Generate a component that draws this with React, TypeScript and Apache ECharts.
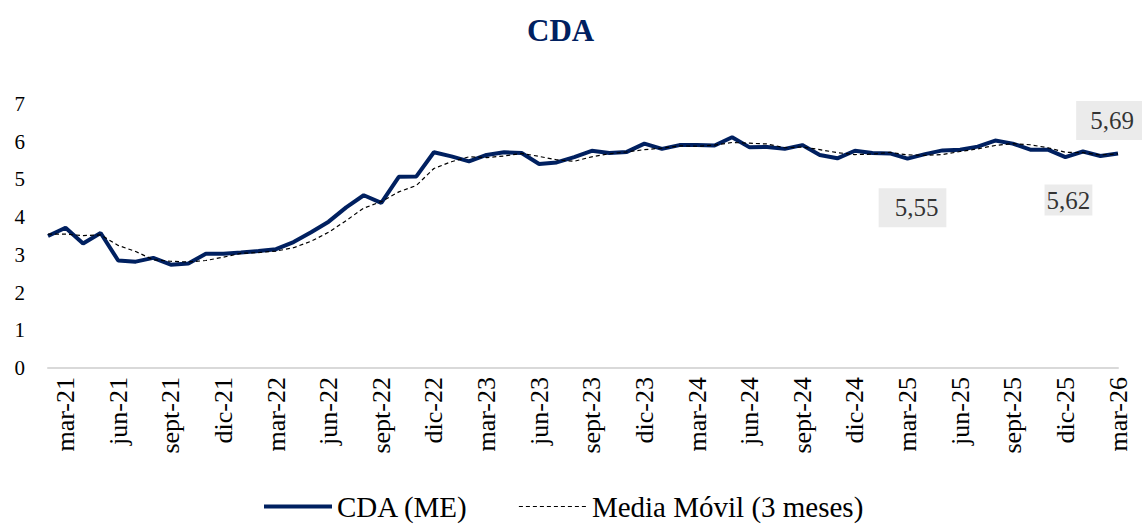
import { useEffect, useRef } from "react";
import * as echarts from "echarts";

const categories = [
  "feb-21", "mar-21", "abr-21", "may-21", "jun-21", "jul-21", "ago-21", "sept-21", "oct-21", "nov-21", "dic-21",
  "ene-22", "feb-22", "mar-22", "abr-22", "may-22", "jun-22", "jul-22", "ago-22", "sept-22", "oct-22", "nov-22", "dic-22",
  "ene-23", "feb-23", "mar-23", "abr-23", "may-23", "jun-23", "jul-23", "ago-23", "sept-23", "oct-23", "nov-23", "dic-23",
  "ene-24", "feb-24", "mar-24", "abr-24", "may-24", "jun-24", "jul-24", "ago-24", "sept-24", "oct-24", "nov-24", "dic-24",
  "ene-25", "feb-25", "mar-25", "abr-25", "may-25", "jun-25", "jul-25", "ago-25", "sept-25", "oct-25", "nov-25", "dic-25",
  "ene-26", "feb-26", "mar-26",
];

const cdaValues = [
  3.5, 3.72, 3.3, 3.58, 2.85, 2.82, 2.92, 2.74, 2.77, 3.03, 3.03,
  3.06, 3.1, 3.15, 3.34, 3.6, 3.88, 4.26, 4.58, 4.38, 5.07, 5.08, 5.72,
  5.61, 5.48, 5.65, 5.72, 5.7, 5.41, 5.45, 5.59, 5.76, 5.7, 5.73, 5.95,
  5.81, 5.91, 5.91, 5.9, 6.12, 5.85, 5.86, 5.81, 5.91, 5.65, 5.56, 5.76,
  5.7, 5.69, 5.55, 5.67, 5.77, 5.79, 5.87, 6.03, 5.95, 5.79, 5.79, 5.59,
  5.74, 5.62, 5.69,
];

const movingAvg = [
  3.55, 3.55, 3.51, 3.53, 3.25, 3.09, 2.87, 2.83, 2.81, 2.85, 2.94,
  3.04, 3.06, 3.1, 3.19, 3.36, 3.6, 3.91, 4.24, 4.41, 4.67, 4.84, 5.29,
  5.47, 5.6, 5.58, 5.62, 5.69, 5.61, 5.52, 5.48, 5.6, 5.68, 5.73, 5.79,
  5.83, 5.89, 5.88, 5.91, 5.98, 5.96, 5.94, 5.84, 5.86, 5.79, 5.71, 5.66,
  5.67, 5.72, 5.65, 5.64, 5.66, 5.74, 5.81, 5.9, 5.95, 5.92, 5.84, 5.72,
  5.71, 5.65, 5.68,
];

const annotatedIndices = [49, 60, 61];
const annotationOffsets = [
  { offset: [5, 49], padding: [7, 8, 7, 16] },
  { offset: [-32, 44], padding: [3, 2, 3, 2] },
  { offset: [-8, -33], padding: [7, 10, 7, 14] },
];

const seriesNames = ["CDA (ME)", "Media Móvil (3 meses)"];

const FONT = "'Liberation Serif', 'Times New Roman', serif";
const NAVY = "#002060";

const fmt = (v: number) => v.toFixed(2).replace(".", ",");

export default function App() {
  const ref = useRef<HTMLDivElement>(null);

  useEffect(() => {
    if (!ref.current) return;
    const chart = echarts.init(ref.current, undefined, { renderer: "svg" });
    chart.setOption({
      animation: false,
      backgroundColor: "#ffffff",
      title: {
        text: "CDA",
        left: 522,
        top: 10,
        textStyle: { fontFamily: FONT, fontSize: 31, fontWeight: "bold", color: NAVY },
      },
      grid: { left: 48, right: 24, top: 104, bottom: 156, containLabel: false },
      xAxis: {
        type: "category",
        data: categories,
        boundaryGap: false,
        axisLine: { show: true, lineStyle: { color: "#d9d9d9", width: 2 } },
        axisTick: { show: false },
        splitLine: { show: false },
        axisLabel: {
          rotate: 90,
          margin: 9,
          padding: [0, 0, 8, 0],
          interval: (idx: number) => (idx - 1) % 3 === 0,
          fontFamily: FONT,
          fontSize: 26,
          color: "#000000",
        },
      },
      yAxis: {
        type: "value",
        min: 0,
        max: 7,
        interval: 1,
        axisLine: { show: false },
        axisTick: { show: false },
        splitLine: { show: false },
        axisLabel: { margin: 23, fontFamily: FONT, fontSize: 21, color: "#000000" },
      },
      legend: {
        data: [
          { name: seriesNames[0], lineStyle: { width: 4, color: NAVY } },
          { name: seriesNames[1], lineStyle: { width: 1.2, color: "#000000", type: [4, 3] } },
        ],
        top: 487,
        left: 257,
        itemWidth: 68,
        itemHeight: 14,
        itemGap: 50,
        itemStyle: { color: "rgba(0,0,0,0)", borderWidth: 0, borderColor: "rgba(0,0,0,0)" },
        textStyle: { fontFamily: FONT, fontSize: 29, color: "#000000" },
      },
      series: [
        {
          name: seriesNames[0],
          type: "line",
          data: cdaValues,
          showSymbol: false,
          symbol: "none",
          lineStyle: { color: NAVY, width: 4 },
          itemStyle: { color: NAVY },
          z: 2,
        },
        {
          name: seriesNames[1],
          type: "line",
          data: movingAvg,
          showSymbol: false,
          symbol: "none",
          lineStyle: { color: "#000000", width: 1.2, type: [4, 3] },
          itemStyle: { color: "#000000" },
          z: 3,
        },
        {
          name: "annotations",
          type: "scatter",
          symbolSize: 1,
          itemStyle: { color: "rgba(0,0,0,0)" },
          z: 4,
          data: annotatedIndices.map((i, k) => ({
            value: [categories[i], cdaValues[i]],
            label: {
              show: true,
              position: "inside",
              offset: annotationOffsets[k].offset,
              padding: annotationOffsets[k].padding,
              backgroundColor: "#e6e6e6",
              fontFamily: FONT,
              fontSize: 25,
              color: "#000000",
              formatter: (p: any) => fmt(p.value[1]),
            },
          })),
        },
      ],
    });
    return () => chart.dispose();
  }, []);

  return (
    <div
      ref={ref}
      style={{ position: "fixed", left: 0, top: 0, width: 1142, height: 524, background: "#fff" }}
    />
  );
}
